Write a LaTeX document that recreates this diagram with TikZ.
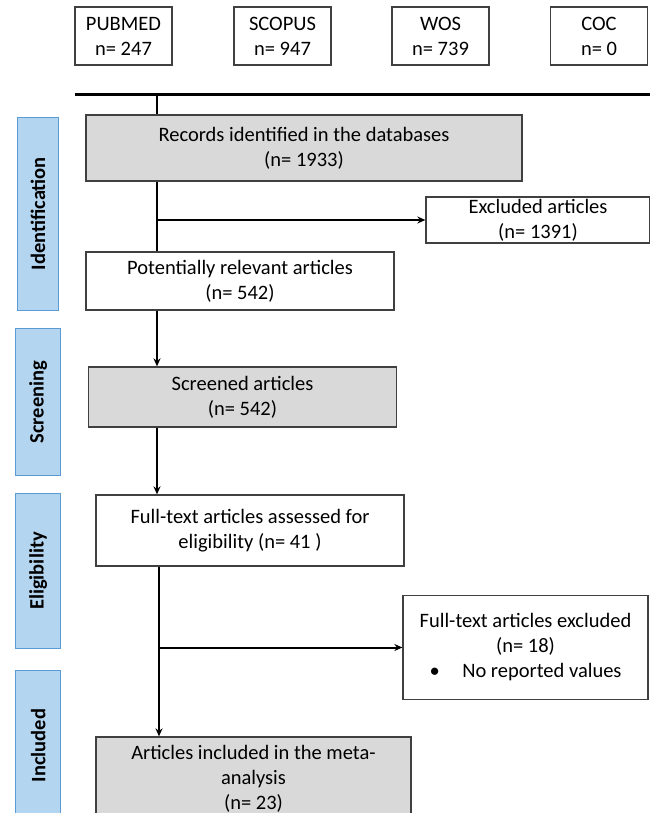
\documentclass[tikz,border=0pt]{standalone}
\usepackage{fontspec}
\setmainfont{Carlito}
\usetikzlibrary{arrows.meta}

\definecolor{boxgray}{RGB}{217,217,217}
\definecolor{barfill}{RGB}{180,213,240}
\definecolor{barline}{RGB}{91,155,213}
\definecolor{edge}{RGB}{64,64,64}

\begin{document}
\begin{tikzpicture}[%
        x = 1pt, y = -1pt,
        every node/.style = {%
            font = \fontsize{20.5pt}{25pt}\selectfont,
            align = center,
            inner sep = 0pt
        },
        source/.style = {%
            draw = edge, line width = 1.3pt,
            minimum width = 97pt, minimum height = 58pt
        },
        stagebox/.style = {%
            draw = edge, line width = 1.3pt
        },
        shaded/.style = {%
            stagebox, fill = boxgray
        },
        phase/.style = {%
            draw = barline, fill = barfill, line width = 1.2pt,
            rotate = 90, font = \fontsize{20.5pt}{25pt}\selectfont\bfseries
        },
        conn/.style = {%
            line width = 2pt
        },
        arr/.style = {%
            conn, -{Stealth[length = 8pt, width = 7pt]}
        }
    ]

        \useasboundingbox (0,0) rectangle (649,813);

        % The four databases along the top.
        \foreach \name/\db/\nval/\x in {pubmed/PUBMED/247/123.5, scopus/SCOPUS/947/282.5,
                                        wos/WOS/739/440.5, coc/COC/0/599}{%
            \node[source] (\name) at (\x,36) {\db\\n= \nval};
        }

        % Thick bar collecting the databases.
        \coordinate (busL) at (75,94.5);
        \coordinate (busR) at (652,94.5);
        \draw[line width = 3.8pt] (busL) -- (busR);

        % Phase bars on the left.
        \node[phase, minimum width = 193pt, minimum height = 40.6pt] (ident) at (38,213.7) {Identification};
        \node[phase, minimum width = 147pt, minimum height = 45pt] (screen) at (38.2,402.2) {Screening};
        \node[phase, minimum width = 155.4pt, minimum height = 45pt] (elig) at (38.2,571) {Eligibility};
        \node[phase, minimum width = 150pt, minimum height = 45pt] (incl) at (38.2,745.5) {Included};

        % Boxes of the flow.
        \node[shaded, minimum width = 436pt, minimum height = 66pt] (records) at (304,148)
            {Records identified in the databases\\(n= 1933)};
        \node[stagebox, minimum width = 224pt, minimum height = 46pt] (excluded) at (538,220)
            {Excluded articles\\(n= 1391)};
        \node[stagebox, minimum width = 308pt, minimum height = 58pt] (potential) at (240,281)
            {Potentially relevant articles\\(n= 542)};
        \node[shaded, minimum width = 308pt, minimum height = 60pt] (screened) at (242.5,397)
            {Screened articles\\(n= 542)};
        \node[stagebox, minimum width = 308pt, minimum height = 71pt] (fulltext) at (250,530.5)
            {Full-text articles assessed for\\eligibility (n= 41 )};
        \node[stagebox, minimum width = 245pt, minimum height = 104pt] (ftexcl) at (525.5,647.5)
            {Full-text articles excluded\\(n= 18)\\\textbullet\hspace{1.1em}No reported values};
        \node[shaded, minimum width = 315pt, minimum height = 83pt] (articles) at (253.5,778.5)
            {Articles included in the meta-\\analysis\\(n= 23)};

        % Trunk lines and branch points.
        \coordinate (trunkA) at (157,94.5);
        \coordinate (trunkB) at (159,566);
        \coordinate (splitA) at (157,220);
        \coordinate (splitB) at (159,647.5);

        \draw[conn] (trunkA) -- (trunkA |- records.north);
        \draw[conn] (records.south -| trunkA) -- (potential.north -| trunkA);
        \draw[arr] (splitA) -- (excluded.west);
        \draw[arr] (potential.south -| trunkA) -- (screened.north -| trunkA);
        \draw[arr] (screened.south -| trunkA) -- (fulltext.north -| trunkA);
        \draw[arr] (fulltext.south -| trunkB) -- (articles.north -| trunkB);
        \draw[arr] (splitB) -- (ftexcl.west);
    \end{tikzpicture}
\end{document}
